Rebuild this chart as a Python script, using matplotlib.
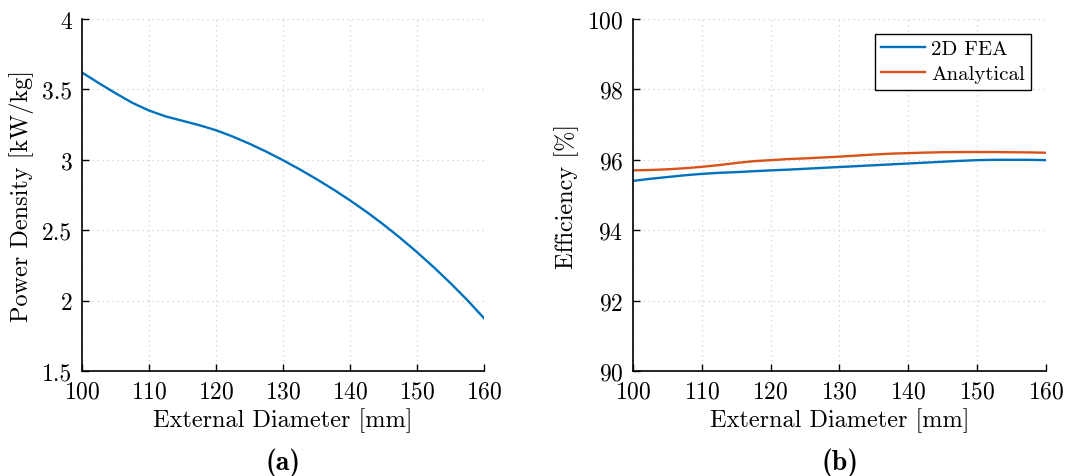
import matplotlib
matplotlib.use('Agg')
import matplotlib.pyplot as plt
import numpy as np

# external diameter sweep [mm]
diameter = [100, 102.5, 105, 107.5, 110, 112.5, 115, 117.5, 120, 122.5, 125, 127.5, 130,
            132.5, 135, 137.5, 140, 142.5, 145, 147.5, 150, 152.5, 155, 157.5, 160]

# (a) power density [kW/kg]
power_density = [3.620, 3.545, 3.473, 3.405, 3.350, 3.308, 3.277, 3.246, 3.210, 3.165, 3.114, 3.058, 2.997,
                 2.932, 2.863, 2.790, 2.712, 2.629, 2.540, 2.445, 2.344, 2.237, 2.124, 2.004, 1.875]

# (b) efficiency [%]
eff_fea = [95.40, 95.46, 95.51, 95.56, 95.60, 95.63, 95.65, 95.675, 95.70, 95.72, 95.745, 95.77, 95.795,
           95.82, 95.845, 95.87, 95.895, 95.92, 95.945, 95.97, 95.99, 96.00, 96.00, 96.00, 95.99]
eff_analytical = [95.70, 95.71, 95.73, 95.76, 95.80, 95.85, 95.91, 95.96, 95.99, 96.02, 96.04, 96.065, 96.09,
                  96.12, 96.15, 96.175, 96.19, 96.205, 96.215, 96.22, 96.22, 96.22, 96.215, 96.21, 96.20]

blue = '#0072BD'
orange = '#D95319'

plt.rcParams['font.family'] = ['cmr10', 'DejaVu Serif']
plt.rcParams['axes.formatter.use_mathtext'] = True
plt.rcParams['mathtext.fontset'] = 'cm'

fig = plt.figure(figsize=(10.70, 4.77), dpi=100)
ax1 = fig.add_axes([82 / 1070, 1 - 372 / 477, 402 / 1070, 352 / 477])
ax2 = fig.add_axes([633 / 1070, 1 - 372 / 477, 413 / 1070, 352 / 477])


def style_axes(ax):
    ax.spines['top'].set_visible(False)
    ax.spines['right'].set_visible(False)
    for s in ['left', 'bottom']:
        ax.spines[s].set_linewidth(1.2)
    ax.tick_params(direction='in', length=5, width=1.0, labelsize=17, pad=7)
    ax.grid(True, linestyle=(0, (1, 3)), color='#cfcfcf', linewidth=0.9)
    ax.set_axisbelow(True)
    ax.set_xlim(100, 160)
    ax.set_xticks(np.arange(100, 161, 10))
    ax.set_xlabel('External Diameter [mm]', fontsize=17.5, labelpad=3)


ax1.plot(diameter, power_density, color=blue, linewidth=1.7)
style_axes(ax1)
ax1.set_ylim(1.5, 4)
ax1.set_yticks([1.5, 2, 2.5, 3, 3.5, 4])
ax1.set_yticklabels(['1.5', '2', '2.5', '3', '3.5', '4'])
ax1.set_ylabel('Power Density [kW/kg]', fontsize=17.5, labelpad=6)

ax2.plot(diameter, eff_fea, color=blue, linewidth=1.7, label='2D FEA')
ax2.plot(diameter, eff_analytical, color=orange, linewidth=1.7, label='Analytical')
style_axes(ax2)
ax2.set_ylim(90, 100)
ax2.set_yticks(np.arange(90, 101, 2))
ax2.set_ylabel('Efficiency [%]', fontsize=17.5, labelpad=6)
leg = ax2.legend(loc='upper right', fontsize=15, fancybox=False, framealpha=1,
                 edgecolor='black', handlelength=2.1, handletextpad=0.3,
                 borderpad=0.3, labelspacing=0.3, borderaxespad=0.7)
leg.get_frame().set_linewidth(1.0)

fig.text((82 + 484) / 2 / 1070, 1 - 463 / 477, '(a)', fontsize=20,
         family=['cmb10', 'DejaVu Serif'], ha='center', va='center')
fig.text((633 + 1046) / 2 / 1070, 1 - 463 / 477, '(b)', fontsize=20,
         family=['cmb10', 'DejaVu Serif'], ha='center', va='center')

fig.savefig('out.png', dpi=100)
